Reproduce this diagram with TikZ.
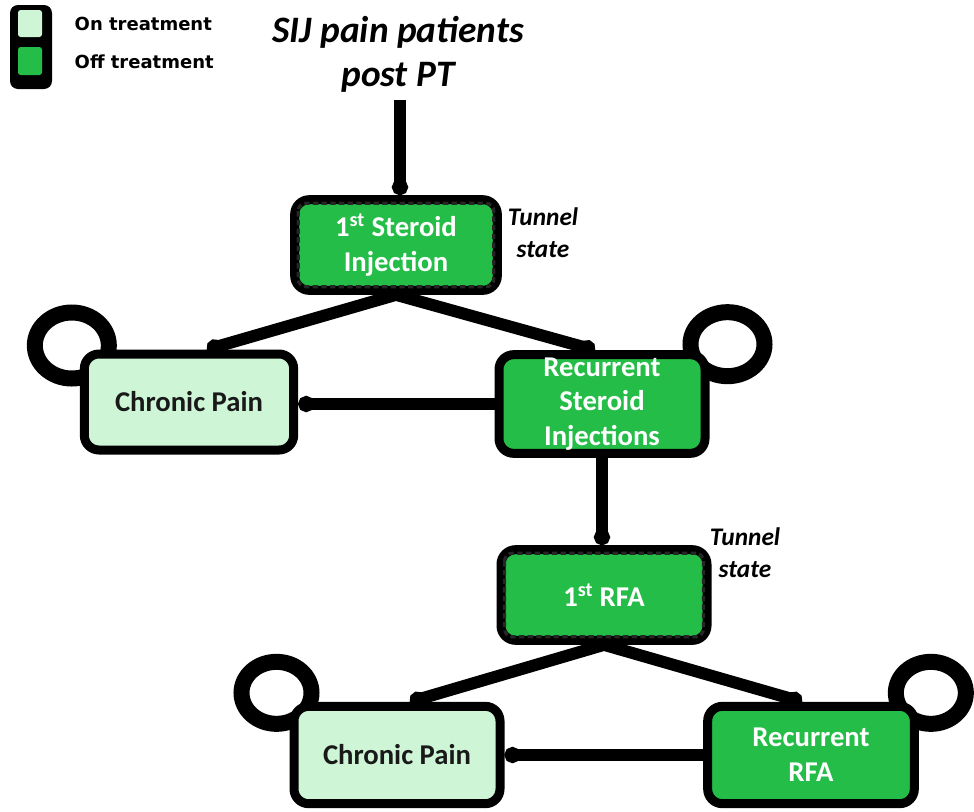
\documentclass[tikz,border=0pt]{standalone}
\usepackage{fontspec}
\setmainfont{Carlito}
\newfontfamily\legfont{DejaVu Sans}
\usetikzlibrary{arrows.meta,backgrounds}
\definecolor{dkg}{RGB}{36,189,72}
\definecolor{ltg}{RGB}{205,245,214}
\begin{document}
\begin{tikzpicture}[x=0.75pt,y=-0.75pt,
 box/.style={draw=black, line width=6.75pt, rounded corners=11pt, inner sep=0pt, align=center, font=\fontsize{21.5}{26}\selectfont\bfseries},
 onbox/.style={box, fill=ltg, text=black!90},
 offbox/.style={box, fill=dkg, text=white},
 tunnel/.style={offbox},
 tunneldash/.style={draw=black!85, line width=2.4pt, dash pattern=on 4pt off 2.5pt, rounded corners=6pt},
 conn/.style={line width=9pt, -{Circle[length=12pt,width=12pt]}},
 selfloop/.style={line width=12pt},
 note/.style={font=\fontsize{19}{24}\selectfont\bfseries\itshape, align=center},
 legtext/.style={anchor=west, font=\legfont\bfseries\fontsize{13.5}{16}\selectfont},
]
\useasboundingbox (0,0) rectangle (974,811);

% legend
\fill[black, rounded corners=6pt] (10,5) rectangle (52,89);
\fill[ltg, rounded corners=2pt] (18,10) rectangle (42,37);
\fill[dkg, rounded corners=2pt] (18,47) rectangle (42,75);
\node[legtext] (legon) at (70,24) {On treatment};
\node[legtext] (legoff) at (70,62) {Off treatment};

% title
\node[font=\fontsize{28}{33}\selectfont\bfseries\itshape, align=center] (title) at (398,54) {SIJ pain patients\\post PT};
\coordinate (start) at (400,100);

% boxes
\node[tunnel, minimum width=152pt, minimum height=68pt] (s1) at (396,245) {1\textsuperscript{st} Steroid\\Injection};
\node[onbox, minimum width=157pt, minimum height=72pt] (cp1) at (189,402) {Chronic Pain};
\node[offbox, minimum width=154.5pt, minimum height=74pt] (rs) at (602,404) {Recurrent\\Steroid\\Injections};
\node[tunnel, minimum width=154.5pt, minimum height=68pt] (rfa) at (604,595) {1\textsuperscript{st} RFA};
\node[onbox, minimum width=154.5pt, minimum height=73pt] (cp2) at (397,755) {Chronic Pain};
\node[offbox, minimum width=155pt, minimum height=73pt] (rr) at (811,755) {Recurrent\\RFA};

% dashed inner outline of tunnel states
\draw[tunneldash] ([shift={(8,8)}]s1.north west) rectangle ([shift={(-8,-8)}]s1.south east);
\draw[tunneldash] ([shift={(8,8)}]rfa.north west) rectangle ([shift={(-8,-8)}]rfa.south east);

% self loops (behind boxes)
\begin{scope}[on background layer]
\draw[selfloop] ([shift={(-8,-4)}]cp1.north west) ellipse [x radius=37, y radius=33];
\draw[selfloop] ([shift={(18,-6)}]rs.north east) ellipse [x radius=37, y radius=32];
\draw[selfloop] ([shift={(-13,-9)}]cp2.north west) ellipse [x radius=35, y radius=31];
\draw[selfloop] ([shift={(12,-9)}]rr.north east) ellipse [x radius=35, y radius=31];
\end{scope}

% tunnel labels
\node[note] (n1) at (543,233) {Tunnel\\state};
\node[note] (n2) at (745,553) {Tunnel\\state};

% connectors
\draw[conn] (start) -- (start |- s1.north);
\draw[conn] (s1.south) -- ([shift={(18,0)}]cp1.north);
\draw[conn] (s1.south) -- ([shift={(-7,0)}]rs.north);
\draw[conn] (rs.west) -- (rs.west -| cp1.east);
\draw[conn] (rs.south) -- (rs.south |- rfa.north);
\draw[conn] (rfa.south) -- ([shift={(13,0)}]cp2.north);
\draw[conn] (rfa.south) -- ([shift={(-9,0)}]rr.north);
\draw[conn] (rr.west) -- (rr.west -| cp2.east);
\end{tikzpicture}
\end{document}
